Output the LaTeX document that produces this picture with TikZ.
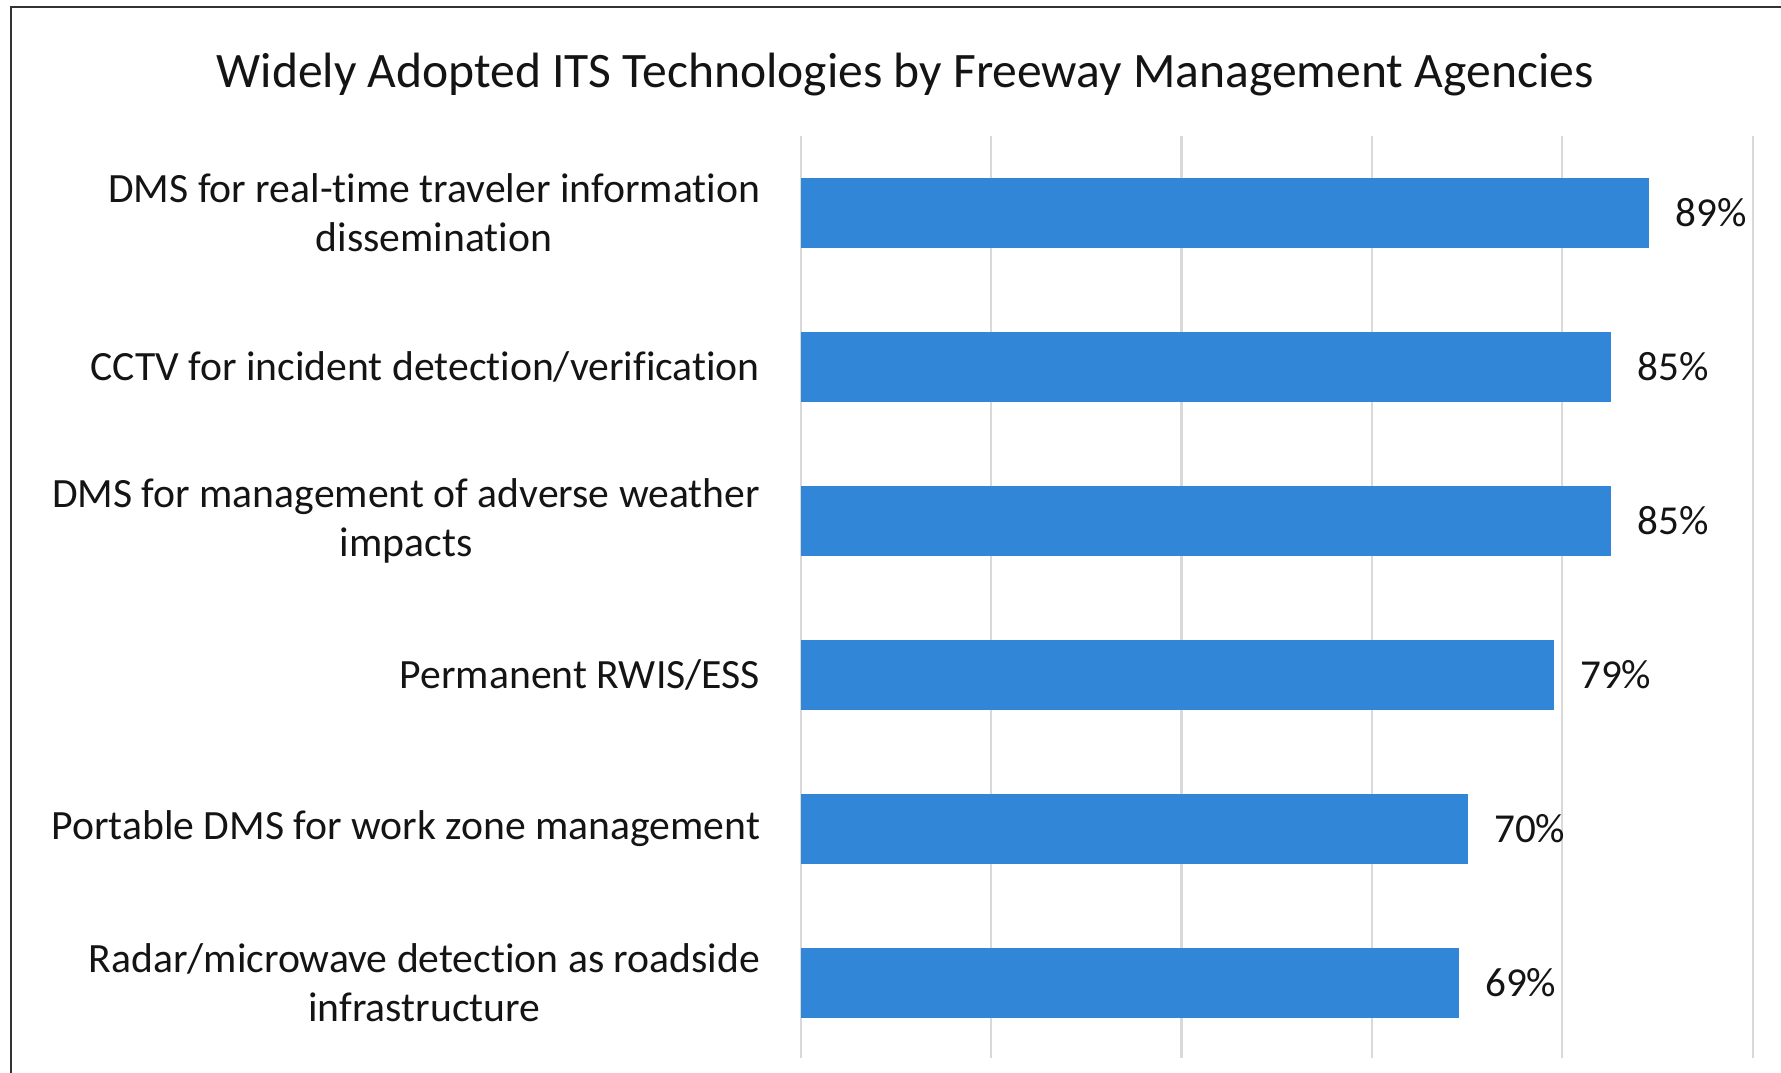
\documentclass[tikz,border=0pt]{standalone}
\usepackage{fontspec}
\setmainfont[Ligatures=NoCommon]{Carlito}
\usepackage{tikz}
\usetikzlibrary{positioning}
\usepackage{xcolor}
\definecolor{barblue}{RGB}{49,134,216}
\definecolor{gridgray}{RGB}{217,217,217}
\definecolor{textdark}{RGB}{20,20,20}
\tikzstyle{frame} = [draw=black!80, line width=0.6pt]
\tikzstyle{gridline} = [draw=gridgray, line width=0.6pt]
\tikzstyle{bar} = [fill=barblue, rectangle, inner sep=0pt, minimum height=0.69cm, anchor=west]
\tikzstyle{catlabel} = [text=textdark, align=center, inner sep=0pt, font=\fontsize{11.85}{13.9}\selectfont]
\tikzstyle{valtext} = [text=textdark, inner sep=0pt, font=\fontsize{11.7}{13.9}\selectfont]
\tikzstyle{charttitle} = [text=textdark, font=\fontsize{14.1}{16}\selectfont]

\begin{document}
\begin{tikzpicture}[x=0.01cm, y=-0.01cm]
\useasboundingbox (0,0) rectangle (1781,1073);
\draw[frame] (11,7) rectangle (1820,1100);

\node[charttitle] (title) at (905,75) {Widely Adopted ITS Technologies by Freeway Management Agencies};

% grid, one line each 20%
\draw[gridline] (800.7,136) -- (800.7,1058);
\draw[gridline] (991.1,136) -- (991.1,1058);
\draw[gridline] (1181.5,136) -- (1181.5,1058);
\draw[gridline] (1371.9,136) -- (1371.9,1058);
\draw[gridline] (1562.3,136) -- (1562.3,1058);
\draw[gridline] (1752.7,136) -- (1752.7,1058);

% bars
\node[bar, minimum width=8.47cm] (bar1) at (800.7,213) {};
\node[bar, minimum width=8.09cm] (bar2) at (800.7,367) {};
\node[bar, minimum width=8.09cm] (bar3) at (800.7,521) {};
\node[bar, minimum width=7.52cm] (bar4) at (800.7,675) {};
\node[bar, minimum width=6.66cm] (bar5) at (800.7,829) {};
\node[bar, minimum width=6.57cm] (bar6) at (800.7,983) {};

% values
\node[valtext, right=0.25cm of bar1] (val1) {89\%};
\node[valtext, right=0.25cm of bar2] (val2) {85\%};
\node[valtext, right=0.25cm of bar3] (val3) {85\%};
\node[valtext, right=0.25cm of bar4] (val4) {79\%};
\node[valtext, right=0.25cm of bar5] (val5) {70\%};
\node[valtext, right=0.25cm of bar6] (val6) {69\%};

% categories
\node[catlabel, left=0.40cm of bar1.west] (cat1) {DMS for real-time traveler information\\dissemination};
\node[catlabel, left=0.40cm of bar2.west] (cat2) {CCTV for incident detection/verification};
\node[catlabel, left=0.40cm of bar3.west] (cat3) {DMS for management of adverse weather\\impacts};
\node[catlabel, left=0.40cm of bar4.west] (cat4) {Permanent RWIS/ESS};
\node[catlabel, left=0.40cm of bar5.west] (cat5) {Portable DMS for work zone management};
\node[catlabel, left=0.40cm of bar6.west] (cat6) {Radar/microwave detection as roadside\\infrastructure};
\end{tikzpicture}
\end{document}
